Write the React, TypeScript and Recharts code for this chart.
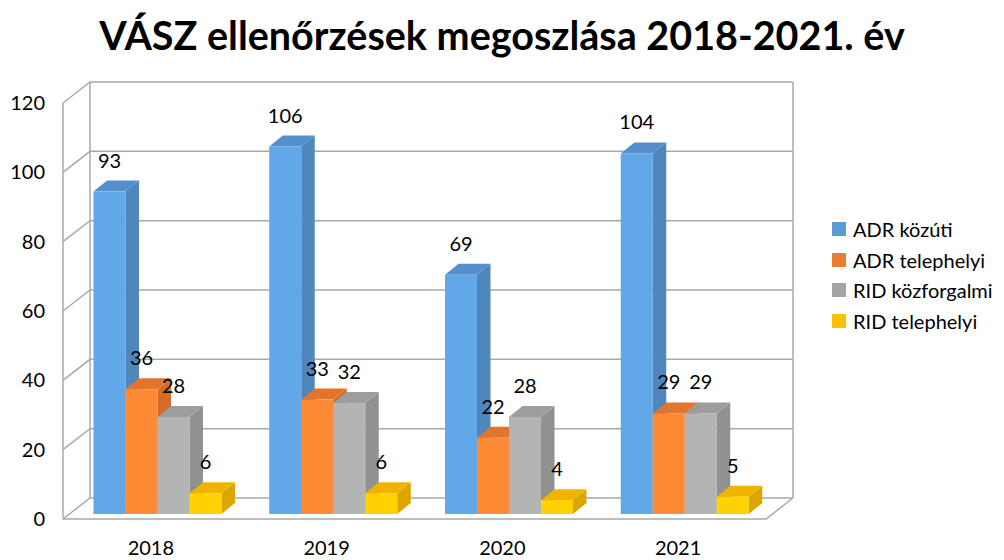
import { BarChart, Bar, XAxis, YAxis, CartesianGrid, LabelList } from "recharts";

// inspection counts per year
const years = ["2018", "2019", "2020", "2021"];
const adrKozuti = [93, 106, 69, 104];
const adrTelephelyi = [36, 33, 22, 29];
const ridKozforgalmi = [28, 32, 28, 29];
const ridTelephelyi = [6, 6, 4, 5];
const seriesNames = ["ADR közúti", "ADR telephelyi", "RID közforgalmi", "RID telephelyi"];
const yTicks = [0, 20, 40, 60, 80, 100, 120];

const data = years.map((year, i) => ({
  year,
  adrKozuti: adrKozuti[i],
  adrTelephelyi: adrTelephelyi[i],
  ridKozforgalmi: ridKozforgalmi[i],
  ridTelephelyi: ridTelephelyi[i],
}));

const FONT = "Lato, 'Noto Sans', sans-serif";

// 3d look: wall depth and bar depth
const WALL_DX = 27;
const WALL_DY = 21;
const BAR_OX = 6.5;
const BAR_OY = 5;
const BAR_DX = 13.5;
const BAR_DY = 11;
const GRID_COLOR = "#a9a9a9";

const series = [
  { key: "adrKozuti", legend: "#5b9bd5", front: "#62a7e8", top: "#5590cc", side: "#4f86bb" },
  { key: "adrTelephelyi", legend: "#ed7d31", front: "#fd8a35", top: "#e2742d", side: "#d56d28" },
  { key: "ridKozforgalmi", legend: "#a5a5a5", front: "#b4b4b4", top: "#9d9d9d", side: "#919191" },
  { key: "ridTelephelyi", legend: "#ffc000", front: "#ffd200", top: "#f0b400", side: "#dca600" },
];

const makeShape = (s: typeof series[number]) => (props: any) => {
  const { x, y, width, height } = props;
  if (width == null || height == null) return <g />;
  const x0 = x + BAR_OX;
  const y0 = y - BAR_OY;
  const x1 = x0 + width;
  const y1 = y0 + height;
  return (
    <g>
      <polygon
        points={`${x1},${y0} ${x1 + BAR_DX},${y0 - BAR_DY} ${x1 + BAR_DX},${y1 - BAR_DY} ${x1},${y1}`}
        fill={s.side}
      />
      <polygon
        points={`${x0},${y0} ${x0 + BAR_DX},${y0 - BAR_DY} ${x1 + BAR_DX},${y0 - BAR_DY} ${x1},${y0}`}
        fill={s.top}
      />
      <rect x={x0} y={y0} width={width} height={height} fill={s.front} />
    </g>
  );
};

const renderLabel = (props: any) => {
  const { x, y, width, value } = props;
  return (
    <text
      x={x + BAR_OX + width / 2}
      y={y - BAR_OY - 24}
      textAnchor="middle"
      fontSize={20}
      fontFamily={FONT}
      fill="#000"
    >
      {value}
    </text>
  );
};

// each horizontal grid line becomes the left wall slant plus the back wall line
const renderGridLine = (props: any) => {
  const { x1, y1, x2, x, y, width, height, index } = props;
  const isFloor = Math.abs(y1 - (y + height)) < 1;
  return (
    <g key={`grid-${index}`} stroke={GRID_COLOR} strokeWidth={1.5} fill="none">
      <path d={`M${x1},${y1} L${x1 + WALL_DX},${y1 - WALL_DY} L${x2 + WALL_DX},${y1 - WALL_DY}`} />
      {isFloor && (
        <>
          <path d={`M${x1},${y1} L${x2},${y1} L${x2 + WALL_DX},${y1 - WALL_DY}`} />
          <line x1={x} y1={y} x2={x} y2={y + height} />
          <line x1={x + WALL_DX} y1={y - WALL_DY} x2={x + WALL_DX} y2={y + height - WALL_DY} />
          <line
            x1={x + width + WALL_DX}
            y1={y - WALL_DY}
            x2={x + width + WALL_DX}
            y2={y + height - WALL_DY}
          />
        </>
      )}
    </g>
  );
};

export default function App() {
  return (
    <div style={{ position: "absolute", left: 0, top: 0, width: 1004, height: 560, background: "#fff" }}>
      <div
        style={{
          position: "absolute",
          left: 0,
          top: 12,
          width: 1004,
          height: 46,
          lineHeight: "46px",
          textAlign: "center",
          fontFamily: FONT,
          fontWeight: 700,
          fontSize: 39.5,
          color: "#000",
        }}
      >
        VÁSZ ellenőrzések megoszlása 2018-2021. év
      </div>
      <BarChart
        width={1004}
        height={560}
        data={data}
        margin={{ top: 103, right: 238, bottom: 0, left: 0 }}
        barGap={0}
        barSize={32}
        style={{ position: "absolute", left: 0, top: 0 }}
      >
        <CartesianGrid horizontal={renderGridLine} vertical={false} />
        <XAxis
          dataKey="year"
          axisLine={false}
          tickLine={false}
          tickSize={0}
          tickMargin={22}
          height={41}
          tick={{ fontSize: 20, fontFamily: FONT, fill: "#000" }}
        />
        <YAxis
          width={63}
          domain={[0, 120]}
          ticks={yTicks}
          axisLine={false}
          tickLine={false}
          tickSize={0}
          tickMargin={18}
          tick={{ fontSize: 20, fontFamily: FONT, fill: "#000" }}
        />
        {series.map((s, i) => (
          <Bar
            key={s.key}
            dataKey={s.key}
            name={seriesNames[i]}
            fill={s.legend}
            shape={makeShape(s)}
            isAnimationActive={false}
          >
            <LabelList dataKey={s.key} content={renderLabel} />
          </Bar>
        ))}
      </BarChart>
      <div
        style={{
          position: "absolute",
          left: 832,
          top: 214,
          width: 172,
          fontFamily: FONT,
          fontSize: 20,
          color: "#000",
        }}
      >
        {series.map((s, i) => (
          <div key={s.key} style={{ display: "flex", alignItems: "center", height: 30.5, whiteSpace: "nowrap" }}>
            <span
              style={{ display: "inline-block", width: 14, height: 14, background: s.legend, marginRight: 7 }}
            />
            <span>{seriesNames[i]}</span>
          </div>
        ))}
      </div>
    </div>
  );
}
